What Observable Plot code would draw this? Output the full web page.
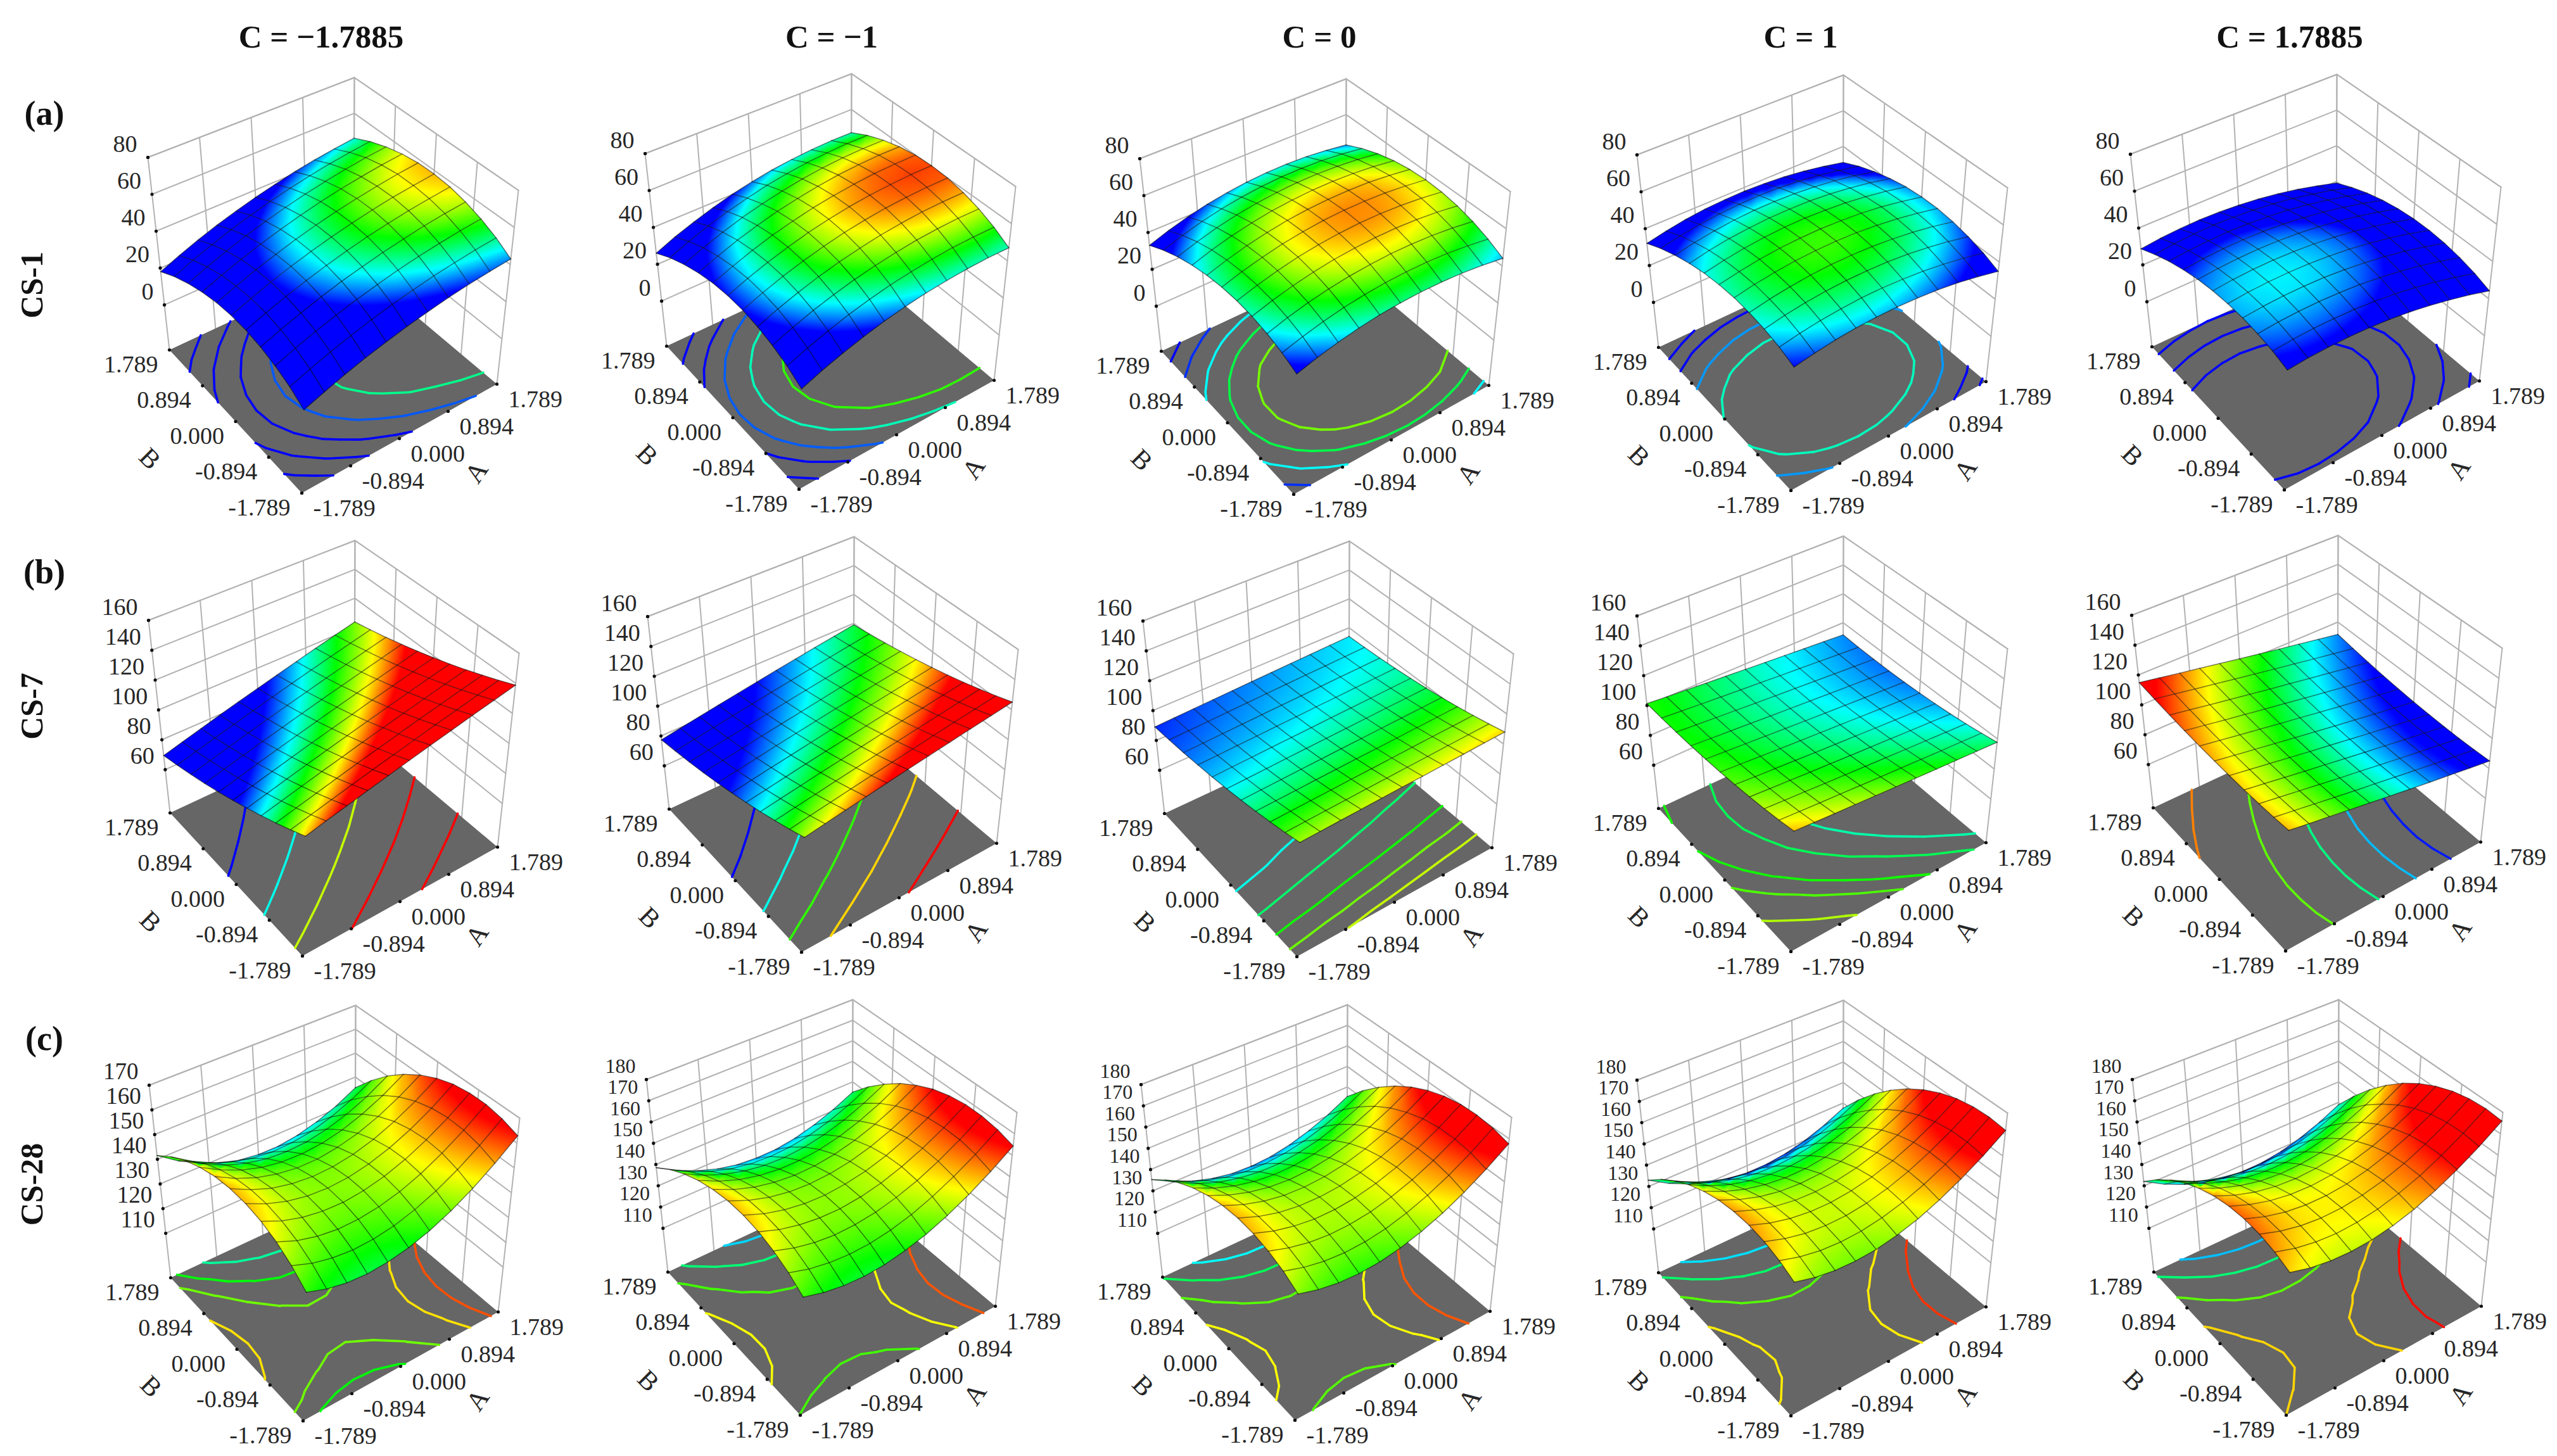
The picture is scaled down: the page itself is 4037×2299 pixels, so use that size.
<!DOCTYPE html>
<html><head><meta charset="utf-8">
<script src="https://cdn.jsdelivr.net/npm/d3@7"></script>
<script src="https://cdn.jsdelivr.net/npm/@observablehq/plot@0.6"></script>
<style>
html,body{margin:0;padding:0;background:#fff}
#page{position:relative;width:4037px;height:2299px;overflow:hidden;background:#fff}
.hd{position:absolute;font-family:"Liberation Serif",serif;font-weight:bold;color:#111;white-space:nowrap;transform:translate(-50%,-50%)}
.rot{transform:translate(-50%,-50%) rotate(-90deg)}
</style></head><body><div id="page"></div>
<script>
// Coded factor levels of the mesh (A across, B down the lists below)
const gridAB=[-1.789,-1.431,-1.073,-0.716,-0.358,0,0.358,0.716,1.073,1.431,1.789];
const tickAB=[-1.789,-0.894,0,0.894,1.789];
const tickABLabels=["-1.789","-0.894","0.000","0.894","1.789"];
const columnTitles=["C = \u22121.7885","C = \u22121","C = 0","C = 1","C = 1.7885"];
const rowTags=["(a)","(b)","(c)"];
const rowNames=["CS-1","CS-7","CS-28"];
const zTicksA=[0,20,40,60,80];
const zTicksB=[60,80,100,120,140,160];
const zTicksC1=[110,120,130,140,150,160,170];
const zTicksC=[110,120,130,140,150,160,170,180];

// CS-1 response values read from the surfaces
const cs1_m1785=[
19,22.8,26.4,29.6,32.4,35,37.2,39.2,40.8,42,43,
23.8,27.6,31.2,34.4,37.4,40,42.2,44.2,45.8,47.2,48.2,
27.4,31.4,35,38.2,41.2,43.8,46.2,48.2,49.8,51.2,52.2,
30,34,37.6,41,44,46.6,49,51,52.8,54.2,55.2,
31.6,35.6,39.2,42.6,45.6,48.4,50.8,52.8,54.6,56,57.2,
32,36,39.8,43.2,46.2,49,51.4,53.6,55.4,56.8,58,
31.4,35.4,39.2,42.6,45.8,48.6,51,53.2,55,56.6,57.8,
29.6,33.8,37.6,41,44.2,47,49.6,51.8,53.6,55.2,56.4,
26.8,31,34.8,38.4,41.6,44.4,47,49.2,51.2,52.8,54,
23,27.2,31,34.6,37.8,40.8,43.4,45.6,47.6,49.2,50.6,
18,22.2,26.2,29.8,33,36,38.6,41,43,44.6,46];
const cs1_m1=[
28,32.1,35.6,38.7,41.4,43.5,45.2,46.3,47,47.3,47,
32.7,36.7,40.3,43.5,46.1,48.3,49.9,51.1,51.9,52.1,51.9,
36.2,40.3,44,47.1,49.8,51.9,53.6,54.9,55.6,55.9,55.6,
38.7,42.9,46.5,49.7,52.3,54.5,56.3,57.5,58.3,58.5,58.3,
40.2,44.3,48,51.1,53.8,56.1,57.8,59.1,59.8,60.1,60,
40.5,44.7,48.3,51.5,54.3,56.5,58.3,59.5,60.3,60.7,60.5,
39.8,43.9,47.6,50.9,53.6,55.9,57.6,58.9,59.8,60.1,60,
37.9,42.1,45.9,49.1,51.9,54.1,55.9,57.3,58.1,58.5,58.3,
35,39.3,43,46.3,49,51.3,53.2,54.5,55.4,55.7,55.6,
31.1,35.3,39.1,42.3,45.1,47.5,49.3,50.7,51.5,52,51.9,
26,30.3,34,37.3,40.2,42.5,44.4,45.7,46.6,47.1,47];
const cs1_0=[
38.4,41.5,44,46,47.4,48.2,48.5,48.2,47.4,46,44,
42.2,45.3,47.9,49.9,51.3,52.2,52.5,52.3,51.5,50.1,48.2,
45,48.2,50.8,52.8,54.3,55.2,55.6,55.4,54.7,53.4,51.5,
46.9,50.1,52.7,54.8,56.4,57.3,57.7,57.6,56.9,55.6,53.8,
47.8,51,53.7,55.9,57.4,58.4,58.9,58.8,58.1,56.9,55.1,
47.7,51,53.7,55.9,57.5,58.6,59.1,59,58.4,57.2,55.5,
46.7,50,52.8,55,56.7,57.8,58.3,58.3,57.8,56.6,54.9,
44.7,48.1,50.9,53.2,54.9,56,56.6,56.6,56.1,55,53.4,
41.8,45.2,48.1,50.4,52.1,53.3,54,54,53.5,52.5,50.9,
37.9,41.3,44.3,46.6,48.4,49.6,50.3,50.4,50,49,47.4,
33,36.5,39.5,41.9,43.7,45,45.7,45.9,45.5,44.5,43];
const cs1_p1=[
40,41.8,43.2,44,44.2,44,43.2,42,40.2,37.8,35,
43.2,45,46.4,47.2,47.6,47.4,46.6,45.4,43.6,41.4,38.6,
45.4,47.4,48.8,49.6,50,49.8,49.2,48,46.2,44,41.2,
46.8,48.8,50.2,51.2,51.6,51.4,50.8,49.6,48,45.8,43,
47.4,49.4,50.8,51.8,52.2,52.2,51.6,50.4,48.8,46.6,44,
47,49,50.6,51.6,52,52,51.4,50.4,48.8,46.6,44,
45.8,47.8,49.4,50.4,51,51,50.4,49.4,47.8,45.8,43.2,
43.6,45.8,47.4,48.4,49,49,48.6,47.6,46,44,41.4,
40.6,42.8,44.4,45.6,46.2,46.2,45.8,44.8,43.4,41.4,38.8,
36.8,39,40.6,41.8,42.4,42.6,42.2,41.2,39.8,37.8,35.4,
32,34.2,36,37.2,37.8,38,37.6,36.8,35.4,33.4,31];
const cs1_p1785=[
38.1,38.9,39.1,38.9,38.3,37.1,35.5,33.3,30.7,27.7,24.1,
40.8,41.6,41.9,41.7,41.1,40,38.4,36.3,33.8,30.7,27.2,
42.6,43.5,43.8,43.7,43.1,42.1,40.5,38.5,36,33,29.5,
43.7,44.6,45,44.9,44.4,43.3,41.8,39.8,37.4,34.4,31,
43.9,44.9,45.3,45.3,44.8,43.8,42.4,40.4,38,35.1,31.7,
43.4,44.4,44.9,44.9,44.4,43.5,42.1,40.2,37.8,35,31.6,
42.1,43.1,43.6,43.7,43.3,42.4,41,39.1,36.8,34,30.7,
39.9,41,41.6,41.7,41.3,40.5,39.1,37.3,35,32.3,29,
37,38.1,38.7,38.9,38.5,37.7,36.5,34.7,32.4,29.7,26.5,
33.2,34.4,35.1,35.3,35,34.2,33,31.3,29,26.4,23.2,
28.7,29.9,30.6,30.9,30.6,29.9,28.7,27,24.9,22.2,19.1];

// CS-7 response values
const cs7_m1785=[
108.2,111.3,114.3,117.4,120.4,123.5,126.6,129.6,132.7,135.7,138.8,
103.4,106.5,109.6,112.7,115.8,118.9,122,125.1,128.2,131.3,134.4,
98.8,102,105.1,108.2,111.4,114.5,117.6,120.8,123.9,127,130.2,
94.5,97.6,100.8,104,107.1,110.3,113.5,116.6,119.8,123,126.1,
90.3,93.5,96.7,99.9,103.1,106.3,109.5,112.7,115.9,119.1,122.3,
86.3,89.5,92.8,96,99.3,102.5,105.7,109,112.2,115.5,118.7,
82.5,85.8,89.1,92.3,95.6,98.9,102.2,105.5,108.7,112,115.3,
78.9,82.3,85.6,88.9,92.2,95.5,98.8,102.1,105.4,108.7,112.1,
75.6,78.9,82.3,85.6,89,92.3,95.6,99,102.3,105.7,109,
72.4,75.8,79.1,82.5,85.9,89.3,92.7,96.1,99.5,102.8,106.2,
69.4,72.8,76.2,79.7,83.1,86.5,89.9,93.3,96.8,100.2,103.6];
const cs7_m1=[
105,107,109,111,113,115,117,119,121,123,125,
101.3,103.4,105.4,107.4,109.4,111.4,113.4,115.5,117.5,119.5,121.5,
97.9,99.9,101.9,104,106,108,110.1,112.1,114.1,116.2,118.2,
94.6,96.7,98.7,100.8,102.8,104.9,106.9,109,111,113.1,115.1,
91.6,93.6,95.7,97.8,99.8,101.9,103.9,106,108.1,110.1,112.2,
88.7,90.8,92.9,94.9,97,99.1,101.2,103.3,105.3,107.4,109.5,
86,88.1,90.2,92.3,94.4,96.5,98.6,100.7,102.8,104.9,107,
83.6,85.7,87.8,89.9,92,94.1,96.3,98.4,100.5,102.6,104.7,
81.3,83.5,85.6,87.7,89.8,92,94.1,96.2,98.3,100.5,102.6,
79.3,81.4,83.5,85.7,87.8,90,92.1,94.3,96.4,98.6,100.7,
77.4,79.6,81.7,83.9,86,88.2,90.4,92.5,94.7,96.8,99];
const cs7_0=[
104.6,104.9,105.3,105.6,106,106.3,106.6,107,107.3,107.7,108,
102.1,102.5,102.9,103.2,103.6,103.9,104.3,104.6,105,105.3,105.7,
99.9,100.3,100.6,101,101.4,101.7,102.1,102.5,102.9,103.2,103.6,
97.8,98.2,98.6,99,99.4,99.8,100.1,100.5,100.9,101.3,101.7,
96,96.4,96.8,97.2,97.6,98,98.4,98.8,99.2,99.6,100,
94.3,94.7,95.1,95.6,96,96.4,96.8,97.2,97.7,98.1,98.5,
92.8,93.3,93.7,94.2,94.6,95,95.5,95.9,96.3,96.8,97.2,
91.6,92,92.5,92.9,93.4,93.8,94.3,94.7,95.2,95.6,96.1,
90.5,91,91.5,91.9,92.4,92.9,93.3,93.8,94.3,94.7,95.2,
89.7,90.1,90.6,91.1,91.6,92.1,92.6,93.1,93.5,94,94.5,
89,89.5,90,90.5,91,91.5,92,92.5,93,93.5,94];
const cs7_p1=[
108.6,107.5,106.4,105.4,104.3,103.2,102.1,101,100,98.9,97.8,
106.8,105.7,104.6,103.6,102.5,101.4,100.4,99.3,98.2,97.2,96.1,
105.2,104.1,103.1,102,101,99.9,98.9,97.8,96.8,95.7,94.6,
103.9,102.8,101.8,100.7,99.7,98.6,97.6,96.6,95.5,94.5,93.4,
102.8,101.7,100.7,99.7,98.6,97.6,96.6,95.5,94.5,93.5,92.4,
101.9,100.9,99.9,98.8,97.8,96.8,95.8,94.8,93.7,92.7,91.7,
101.3,100.3,99.3,98.3,97.2,96.2,95.2,94.2,93.2,92.2,91.2,
100.9,99.9,98.9,97.9,96.9,95.9,94.9,93.9,92.9,91.9,90.9,
100.8,99.8,98.8,97.8,96.8,95.8,94.9,93.9,92.9,91.9,90.9,
100.9,99.9,98.9,97.9,97,96,95,94.1,93.1,92.1,91.1,
101.2,100.2,99.3,98.3,97.4,96.4,95.4,94.5,93.5,92.6,91.6];
const cs7_p1785=[
108.7,106.3,104,101.6,99.2,96.8,94.4,92,89.7,87.3,84.9,
108.2,105.9,103.5,101.1,98.7,96.4,94,91.6,89.2,86.9,84.5,
108,105.7,103.3,100.9,98.5,96.2,93.8,91.4,89,86.7,84.3,
108,105.7,103.3,100.9,98.6,96.2,93.8,91.5,89.1,86.7,84.4,
108.3,106,103.6,101.2,98.8,96.5,94.1,91.7,89.4,87,84.7,
108.8,106.4,104.1,101.7,99.4,97,94.6,92.3,89.9,87.6,85.2,
109.5,107.2,104.8,102.5,100.1,97.8,95.4,93,90.7,88.3,86,
110.5,108.2,105.8,103.5,101.1,98.8,96.4,94.1,91.7,89.4,87,
111.7,109.4,107,104.7,102.3,100,97.7,95.3,93,90.6,88.3,
113.2,110.9,108.5,106.2,103.8,101.5,99.1,96.8,94.4,92.1,89.8,
114.9,112.6,110.2,107.9,105.5,103.2,100.9,98.5,96.2,93.8,91.5];

// CS-28 response values
const cs28_m1785=[
142.1,139.3,137.6,137,137.5,139,141.6,145.3,150.1,156,162.9,
147.1,144,142.1,141.2,141.4,142.6,145,148.4,152.9,158.5,165.2,
151,147.6,145.4,144.2,144.2,145.2,147.2,150.4,154.7,160,166.4,
153.7,150.1,147.6,146.2,145.8,146.6,148.4,151.3,155.3,160.3,166.4,
155.3,151.5,148.7,147,146.4,146.8,148.4,151,154.7,159.5,165.4,
155.8,151.7,148.6,146.7,145.8,146,147.3,149.6,153.1,157.6,163.2,
155.2,150.8,147.5,145.3,144.1,144,145.1,147.1,150.3,154.6,159.9,
153.4,148.8,145.2,142.7,141.3,141,141.7,143.5,146.4,150.4,155.5,
150.6,145.7,141.8,139.1,137.4,136.8,137.2,138.8,141.4,145.1,150,
146.6,141.4,137.3,134.3,132.3,131.4,131.7,132.9,135.3,138.8,143.3,
141.5,136,131.7,128.4,126.1,125,124.9,126,128.1,131.2,135.5];
const cs28_m1=[
142.8,140.1,138.5,137.9,138.4,140.1,142.7,146.5,151.4,157.3,164.3,
147.6,144.6,142.8,142,142.2,143.6,146,149.6,154.2,159.8,166.6,
151.2,148,145.9,144.8,144.9,146,148.2,151.4,155.8,161.2,167.7,
153.7,150.2,147.9,146.6,146.3,147.2,149.1,152.2,156.3,161.4,167.7,
155,151.3,148.7,147.1,146.6,147.3,148.9,151.7,155.6,160.5,166.5,
155.2,151.2,148.3,146.5,145.8,146.2,147.6,150.1,153.7,158.4,164.2,
154.1,149.9,146.8,144.8,143.8,143.9,145.1,147.4,150.7,155.1,160.6,
152,147.5,144.1,141.8,140.6,140.5,141.4,143.4,146.5,150.7,156,
148.6,143.9,140.3,137.8,136.3,135.9,136.6,138.4,141.2,145.1,150.1,
144.2,139.2,135.3,132.5,130.8,130.2,130.6,132.1,134.7,138.4,143.2,
138.5,133.3,129.2,126.1,124.1,123.3,123.4,124.7,127.1,130.5,135];
const cs28_0=[
146.5,143.8,142.1,141.5,142,143.6,146.3,150,154.8,160.7,167.7,
150.6,147.7,145.8,145,145.3,146.6,149.1,152.6,157.2,162.9,169.7,
153.5,150.4,148.3,147.3,147.4,148.5,150.8,154.1,158.5,163.9,170.5,
155.3,151.9,149.7,148.4,148.3,149.2,151.3,154.4,158.6,163.8,170.2,
156,152.4,149.8,148.4,148.1,148.8,150.6,153.5,157.5,162.5,168.7,
155.4,151.6,148.9,147.2,146.7,147.2,148.8,151.5,155.2,160,166,
153.7,149.7,146.8,144.9,144.1,144.4,145.8,148.3,151.8,156.5,162.2,
150.8,146.6,143.5,141.4,140.4,140.5,141.7,143.9,147.3,151.7,157.2,
146.8,142.4,139,136.8,135.6,135.4,136.4,138.4,141.6,145.8,151.1,
141.6,137,133.4,130.9,129.5,129.2,130,131.8,134.7,138.7,143.8,
135.3,130.4,126.7,124,122.3,121.8,122.3,124,126.7,130.4,135.3];
const cs28_p1=[
149.9,147.2,145.7,145.2,145.7,147.4,150.1,154,158.9,164.8,171.9,
153.4,150.5,148.6,147.9,148.2,149.6,152,155.6,160.2,165.9,172.7,
155.8,152.6,150.4,149.4,149.4,150.5,152.7,156,160.4,165.8,172.3,
157,153.5,151.1,149.8,149.5,150.4,152.3,155.3,159.4,164.5,170.8,
157,153.3,150.6,149,148.5,149,150.7,153.4,157.2,162.1,168.1,
155.9,151.9,148.9,147,146.3,146.6,147.9,150.4,153.9,158.5,164.2,
153.6,149.3,146.1,144,142.9,142.9,144,146.2,149.4,153.8,159.2,
150.2,145.6,142.1,139.7,138.4,138.1,138.9,140.8,143.8,147.8,153,
145.6,140.7,137,134.3,132.6,132.1,132.7,134.3,137,140.8,145.7,
139.8,134.7,130.7,127.7,125.8,125,125.3,126.6,129,132.6,137.2,
132.9,127.5,123.2,119.9,117.8,116.7,116.7,117.8,119.9,123.2,127.5];
const cs28_p1785=[
154,151.3,149.8,149.3,149.8,151.5,154.2,158.1,163,168.9,176,
157,154.1,152.3,151.5,151.9,153.3,155.8,159.3,164,169.7,176.5,
158.9,155.7,153.6,152.6,152.7,153.9,156.1,159.4,163.8,169.3,175.8,
159.6,156.2,153.8,152.6,152.4,153.3,155.3,158.4,162.5,167.7,174,
159.1,155.5,152.9,151.4,150.9,151.6,153.3,156.1,160,165,171,
157.5,153.6,150.7,149,148.3,148.7,150.2,152.7,156.4,161.1,166.9,
154.7,150.6,147.5,145.4,144.5,144.7,145.9,148.2,151.6,156,161.6,
150.8,146.4,143,140.8,139.6,139.5,140.4,142.5,145.6,149.9,155.1,
145.7,141,137.4,134.9,133.5,133.1,133.8,135.6,138.5,142.5,147.5,
139.4,134.5,130.6,127.9,126.2,125.6,126.1,127.6,130.2,133.9,138.7,
132,126.8,122.7,119.7,117.8,116.9,117.1,118.4,120.8,124.3,128.8];

// Contour levels drawn on each floor
const levels_cs1=[[25,30.8,36.4,41.9,48],[32,37.5,42,47,52],[36.5,41,45.5,49.5,53.5],[35.9,39.3,43.3,46.9],[26,31,35.7,40]];
const levels_cs7=[[84,95,105.5,116,127],[88,95,101.7,108,116],[95,98,100.9,103.3,105.5],[96.5,98.5,100.9,102.4,105],[88.6,92.8,97.4,102.9,110]];
const levels_cs28=[[132.7,139.6,145.2,153.4,160.3],[126,134.5,143,151.6,160],[128,136,144,151.8,160],[126.5,135.2,143.9,152.9,161.6],[125,134.5,144.3,154,163.5]];

// Colour stops per response (blue, cyan, green, yellow, red)
const ramp=["#0000ff","#00ffff","#00ff00","#ffff00","#ff0000"];
const stops_cs1=[40,45.5,51,56.5,62];
const stops_cs7=[88,94.5,100.5,107,113];
const stops_cs28=[116,128,140,152,164];

// ---------- layout ----------
const SERIF='"Liberation Serif",serif';
const footX=[[476,1261,2042,2827,3606],[477,1265,2047,2827,3608],[478,1263,2044,2827,3609]];
const footY=[[778,772,780,774,773],[1509,1503,1510,1502,1501],[2243,2234,2242,2235,2234]];
const box={f0:[0,0],r0:[308,-172],l0:[-209,-226],b0:[82,-362],f1:[8,-316],r1:[342,-478],l1:[-243,-530],b1:[83,-656]};
const win={x:-330,y:-680,w:770,h:736};

const rows=[
 {stops:stops_cs1,levels:levels_cs1,data:[cs1_m1785,cs1_m1,cs1_0,cs1_p1,cs1_p1785],zr:()=>[-24.4,80],ticks:()=>zTicksA,zFont:()=>38},
 {stops:stops_cs7,levels:levels_cs7,data:[cs7_m1785,cs7_m1,cs7_0,cs7_p1,cs7_p1785],zr:()=>[31,160],ticks:()=>zTicksB,zFont:()=>38},
 {stops:stops_cs28,levels:levels_cs28,data:[cs28_m1785,cs28_m1,cs28_0,cs28_p1,cs28_p1785],zr:c=>c===0?[92,170]:[89.4,180],ticks:c=>c===0?zTicksC1:zTicksC,zFont:c=>c===0?37:32}
];

function projector(fx,fy,zr){
  const mix=(a,b,t)=>a+(b-a)*t;
  return (A,B,Z)=>{
    const s=(A/1.789+1)/2,w=(B/1.789+1)/2,h=(Z-zr[0])/(zr[1]-zr[0]);
    const bil=k=>{
      const q=n=>box[n+k];
      return [0,1].map(i=>(1-s)*(1-w)*q("f")[i]+s*(1-w)*q("r")[i]+(1-s)*w*q("l")[i]+s*w*q("b")[i]);
    };
    const p0=bil(0),p1=bil(1);
    return {x:fx+mix(p0[0],p1[0],h),y:fy+mix(p0[1],p1[1],h)};
  };
}

function contourSegments(vals,levels,P,zmin){
  const n=gridAB.length,segs=[];
  const at=(i,j)=>vals[j*n+i];
  for(const lv of levels){
    for(let j=0;j<n-1;j++)for(let i=0;i<n-1;i++){
      const c=[[i,j],[i+1,j],[i+1,j+1],[i,j+1]];
      const pts=[];
      for(let e=0;e<4;e++){
        const [a,b]=[c[e],c[(e+1)%4]];
        const va=at(a[0],a[1]),vb=at(b[0],b[1]);
        if((va<lv)!==(vb<lv)){
          const t=(lv-va)/(vb-va);
          pts.push(P(gridAB[a[0]]+(gridAB[b[0]]-gridAB[a[0]])*t,gridAB[a[1]]+(gridAB[b[1]]-gridAB[a[1]])*t,zmin));
        }
      }
      for(let k=0;k+1<pts.length;k+=2)segs.push({x1:pts[k].x,y1:pts[k].y,x2:pts[k+1].x,y2:pts[k+1].y,level:lv});
    }
  }
  return segs;
}

const page=document.getElementById("page");
rows.forEach((row,ri)=>{
  row.data.forEach((vals,ci)=>{
    const fx=footX[ri][ci],fy=footY[ri][ci],zr=row.zr(ci),zTicks=row.ticks(ci);
    const P=projector(fx,fy,zr),n=gridAB.length,zTop=zr[1],zLow=zr[0],end=gridAB[n-1],start=gridAB[0];
    const surf=[];
    gridAB.forEach((b,j)=>gridAB.forEach((a,i)=>surf.push({...P(a,b,vals[j*n+i]),value:vals[j*n+i],i,j})));
    const mesh=[];
    surf.forEach(d=>{mesh.push({x:d.x,y:d.y,id:"j"+d.j});});
    for(let i=0;i<n;i++)for(let j=0;j<n;j++){const d=surf[j*n+i];mesh.push({x:d.x,y:d.y,id:"i"+i});}
    const walls=[];let wid=0;
    [...zTicks,zTop].forEach(z=>{
      const k=wid++;
      [P(start,end,z),P(end,end,z),P(end,start,z)].forEach(p=>walls.push({...p,id:k}));
    });
    tickAB.forEach(t=>{
      let k=wid++;[P(t,end,zLow),P(t,end,zTop)].forEach(p=>walls.push({...p,id:k}));
      k=wid++;[P(end,t,zLow),P(end,t,zTop)].forEach(p=>walls.push({...p,id:k}));
    });
    const floor=[P(start,start,zLow),P(end,start,zLow),P(end,end,zLow),P(start,end,zLow),P(start,start,zLow)];
    const zLab=zTicks.map(z=>({...P(start,end,z),text:String(z)}));
    const aLab=tickAB.map((t,i)=>({...P(t,start,zLow),text:tickABLabels[i]}));
    const bLab=tickAB.map((t,i)=>({...P(start,t,zLow),text:tickABLabels[i]}));
    const edgeDots=[...aLab,...bLab,...zLab,P(start,end,zTop)];
    const segs=contourSegments(vals,row.levels[ci],P,zLow);
    const font={fontFamily:SERIF,fontSize:38,fill:"#262626"};
    const plot=Plot.plot({
      width:win.w,height:win.h,marginTop:0,marginRight:0,marginBottom:0,marginLeft:0,
      x:{type:"linear",domain:[fx+win.x,fx+win.x+win.w],range:[0,win.w],axis:null},
      y:{type:"linear",domain:[fy+win.y,fy+win.y+win.h],range:[0,win.h],axis:null},
      color:{type:"linear",domain:row.stops,range:ramp,clamp:true},
      marks:[
        Plot.line(walls,{x:"x",y:"y",z:"id",stroke:"#b2b2b2",strokeWidth:2}),
        Plot.line(floor,{x:"x",y:"y",fill:"#666666",stroke:"none"}),
        Plot.link(segs,{x1:"x1",y1:"y1",x2:"x2",y2:"y2",stroke:"level",strokeWidth:3.6,strokeLinecap:"round"}),
        Plot.dot(edgeDots,{x:"x",y:"y",r:2.6,fill:"#111",stroke:"none"}),
        Plot.raster(surf,{x:"x",y:"y",fill:"value",interpolate:"barycentric"}),
        Plot.line(mesh,{x:"x",y:"y",z:"id",stroke:"#000",strokeWidth:1.5,strokeOpacity:0.5}),
        Plot.text(zLab,{x:"x",y:"y",text:"text",dx:-17,dy:-21,textAnchor:"end",...font,fontSize:row.zFont(ci)}),
        Plot.text(bLab,{x:"x",y:"y",text:"text",dx:-18,dy:23,textAnchor:"end",...font}),
        Plot.text(aLab,{x:"x",y:"y",text:"text",dx:18,dy:24,textAnchor:"start",...font}),
        Plot.text([{x:fx+276,y:fy-33}],{x:"x",y:"y",text:()=>"A",rotate:-55,...font,fontSize:42}),
        Plot.text([{x:fx-240,y:fy-54}],{x:"x",y:"y",text:()=>"B",rotate:45,...font,fontSize:42})
      ]
    });
    // Limit the barycentric raster to the drawn surface cells
    const sx=plot.scale("x"),sy=plot.scale("y");
    const ns="http://www.w3.org/2000/svg";
    const cp=document.createElementNS(ns,"clipPath");cp.setAttribute("id",`surf-${ri}-${ci}`);
    for(let j=0;j<n-1;j++)for(let i=0;i<n-1;i++){
      const q=[surf[j*n+i],surf[j*n+i+1],surf[(j+1)*n+i+1],surf[(j+1)*n+i]];
      const p=document.createElementNS(ns,"path");
      p.setAttribute("d","M"+q.map(d=>sx.apply(d.x).toFixed(1)+","+sy.apply(d.y).toFixed(1)).join("L")+"Z");
      cp.appendChild(p);
    }
    plot.appendChild(cp);
    const img=plot.querySelector("image");
    if(img)img.setAttribute("clip-path",`url(#surf-${ri}-${ci})`);
    plot.style.position="absolute";
    plot.style.left=(fx+win.x)+"px";
    plot.style.top=(fy+win.y)+"px";
    plot.style.background="none";
    plot.style.maxWidth="none";
    page.appendChild(plot);
  });
});

function label(text,x,y,size,cls){
  const d=document.createElement("div");
  d.className="hd"+(cls?" "+cls:"");
  d.textContent=text;d.style.left=x+"px";d.style.top=y+"px";d.style.fontSize=size+"px";
  page.appendChild(d);
}
const titleX=[507,1313,2083,2843,3615];
columnTitles.forEach((t,i)=>label(t,titleX[i],58,51));
const tagY=[179,903,1640],nameY=[450,1115,1870];
rowTags.forEach((t,i)=>label(t,70,tagY[i],54));
rowNames.forEach((t,i)=>label(t,50,nameY[i],50,"rot"));
</script></body></html>
